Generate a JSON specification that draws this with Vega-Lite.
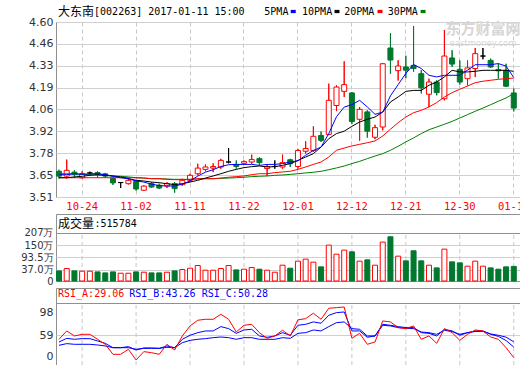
{
  "$schema": "https://vega.github.io/schema/vega-lite/v6.json",
  "padding": {"left": 0, "top": 4, "right": 0, "bottom": 0},
  "background": "white",
  "config": {
    "view": {"stroke": "#909090", "strokeWidth": 1},
    "axis": {"labelFont": "DejaVu Sans", "labelFontSize": 11, "labelColor": "#333333", "ticks": false, "tickSize": 0, "domain": false, "labelOverlap": false}
  },
  "datasets": {
    "k": [
      {"d":"10-19","o":3.67,"h":3.68,"l":3.625,"c":3.64,"v":30.8,"m5":3.649,"m10":3.630,"m20":3.630,"m30":3.655,"ra":53.6,"rb":50.0,"rc":45.6},
      {"d":"10-20","o":3.64,"h":3.743,"l":3.625,"c":3.676,"v":41.7,"m5":3.649,"m10":3.630,"m20":3.630,"m30":3.655,"ra":64.8,"rb":54.9,"rc":47.8},
      {"d":"10-21","o":3.665,"h":3.676,"l":3.63,"c":3.652,"v":30.8,"m5":3.655,"m10":3.635,"m20":3.630,"m30":3.653,"ra":58.1,"rb":53.6,"rc":46.9},
      {"d":"10-24","o":3.63,"h":3.67,"l":3.625,"c":3.656,"v":29.3,"m5":3.651,"m10":3.639,"m20":3.630,"m30":3.651,"ra":60.3,"rb":54.5,"rc":46.9},
      {"d":"10-25","o":3.66,"h":3.668,"l":3.645,"c":3.66,"v":29.3,"m5":3.655,"m10":3.645,"m20":3.630,"m30":3.649,"ra":60.3,"rb":54.5,"rc":46.9},
      {"d":"10-26","o":3.662,"h":3.67,"l":3.63,"c":3.652,"v":26.1,"m5":3.655,"m10":3.649,"m20":3.630,"m30":3.647,"ra":53.6,"rb":51.4,"rc":46.0},
      {"d":"10-27","o":3.654,"h":3.66,"l":3.63,"c":3.64,"v":21.5,"m5":3.649,"m10":3.645,"m20":3.630,"m30":3.645,"ra":46.9,"rb":48.2,"rc":44.7},
      {"d":"10-28","o":3.626,"h":3.63,"l":3.585,"c":3.598,"v":26.1,"m5":3.639,"m10":3.641,"m20":3.630,"m30":3.641,"ra":33.5,"rb":42.4,"rc":42.4},
      {"d":"10-31","o":3.60,"h":3.602,"l":3.566,"c":3.60,"v":20.0,"m5":3.630,"m10":3.635,"m20":3.630,"m30":3.639,"ra":33.5,"rb":42.4,"rc":42.4},
      {"d":"11-01","o":3.593,"h":3.63,"l":3.588,"c":3.614,"v":20.0,"m5":3.624,"m10":3.624,"m20":3.630,"m30":3.635,"ra":40.2,"rb":43.8,"rc":42.4},
      {"d":"11-02","o":3.607,"h":3.614,"l":3.55,"c":3.56,"v":26.1,"m5":3.610,"m10":3.614,"m20":3.630,"m30":3.630,"ra":25.9,"rb":39.3,"rc":40.2},
      {"d":"11-03","o":3.552,"h":3.582,"l":3.548,"c":3.578,"v":24.6,"m5":3.603,"m10":3.610,"m20":3.628,"m30":3.628,"ra":37.1,"rb":42.0,"rc":41.5},
      {"d":"11-04","o":3.593,"h":3.603,"l":3.566,"c":3.572,"v":21.5,"m5":3.590,"m10":3.603,"m20":3.624,"m30":3.624,"ra":35.7,"rb":42.0,"rc":41.5},
      {"d":"11-07","o":3.583,"h":3.593,"l":3.56,"c":3.566,"v":21.5,"m5":3.581,"m10":3.599,"m20":3.624,"m30":3.624,"ra":33.5,"rb":41.5,"rc":41.5},
      {"d":"11-08","o":3.578,"h":3.603,"l":3.566,"c":3.593,"v":24.6,"m5":3.579,"m10":3.593,"m20":3.620,"m30":3.622,"ra":46.9,"rb":44.7,"rc":42.9},
      {"d":"11-09","o":3.593,"h":3.603,"l":3.537,"c":3.562,"v":30.8,"m5":3.578,"m10":3.587,"m20":3.618,"m30":3.620,"ra":39.3,"rb":42.4,"rc":42.4},
      {"d":"11-10","o":3.587,"h":3.624,"l":3.58,"c":3.614,"v":37.0,"m5":3.590,"m10":3.593,"m20":3.618,"m30":3.620,"ra":58.1,"rb":53.6,"rc":49.1},
      {"d":"11-11","o":3.614,"h":3.655,"l":3.603,"c":3.645,"v":43.2,"m5":3.610,"m10":3.603,"m20":3.620,"m30":3.620,"ra":71.5,"rb":59.0,"rc":52.2},
      {"d":"11-14","o":3.655,"h":3.717,"l":3.645,"c":3.69,"v":55.6,"m5":3.640,"m10":3.614,"m20":3.624,"m30":3.622,"ra":79.1,"rb":62.5,"rc":53.6},
      {"d":"11-15","o":3.682,"h":3.713,"l":3.67,"c":3.697,"v":33.9,"m5":3.665,"m10":3.628,"m20":3.624,"m30":3.624,"ra":80.4,"rb":64.8,"rc":54.5},
      {"d":"11-16","o":3.69,"h":3.72,"l":3.665,"c":3.70,"v":33.9,"m5":3.680,"m10":3.641,"m20":3.624,"m30":3.624,"ra":80.4,"rb":64.8,"rc":55.8},
      {"d":"11-17","o":3.697,"h":3.748,"l":3.686,"c":3.738,"v":41.7,"m5":3.700,"m10":3.655,"m20":3.628,"m30":3.626,"ra":87.1,"rb":70.6,"rc":56.7},
      {"d":"11-18","o":3.728,"h":3.815,"l":3.72,"c":3.728,"v":55.6,"m5":3.711,"m10":3.670,"m20":3.633,"m30":3.628,"ra":80.4,"rb":67.9,"rc":55.8},
      {"d":"11-21","o":3.713,"h":3.738,"l":3.686,"c":3.70,"v":35.4,"m5":3.713,"m10":3.682,"m20":3.637,"m30":3.630,"ra":63.4,"rb":61.6,"rc":53.6},
      {"d":"11-22","o":3.72,"h":3.738,"l":3.717,"c":3.73,"v":38.6,"m5":3.713,"m10":3.693,"m20":3.641,"m30":3.633,"ra":72.4,"rb":66.1,"rc":55.8},
      {"d":"11-23","o":3.728,"h":3.774,"l":3.717,"c":3.743,"v":46.3,"m5":3.713,"m10":3.699,"m20":3.649,"m30":3.637,"ra":73.7,"rb":67.0,"rc":55.8},
      {"d":"11-24","o":3.749,"h":3.757,"l":3.707,"c":3.724,"v":38.6,"m5":3.707,"m10":3.703,"m20":3.655,"m30":3.639,"ra":62.5,"rb":58.1,"rc":53.6},
      {"d":"11-25","o":3.687,"h":3.711,"l":3.64,"c":3.70,"v":33.9,"m5":3.713,"m10":3.697,"m20":3.655,"m30":3.641,"ra":54.9,"rb":56.3,"rc":53.6},
      {"d":"11-28","o":3.70,"h":3.738,"l":3.686,"c":3.70,"v":24.6,"m5":3.713,"m10":3.699,"m20":3.662,"m30":3.645,"ra":58.1,"rb":58.1,"rc":53.6},
      {"d":"11-29","o":3.697,"h":3.774,"l":3.686,"c":3.724,"v":57.1,"m5":3.718,"m10":3.707,"m20":3.666,"m30":3.647,"ra":65.7,"rb":62.5,"rc":55.8},
      {"d":"11-30","o":3.742,"h":3.748,"l":3.697,"c":3.717,"v":43.2,"m5":3.728,"m10":3.718,"m20":3.670,"m30":3.651,"ra":58.1,"rb":59.0,"rc":54.9},
      {"d":"12-01","o":3.70,"h":3.81,"l":3.686,"c":3.80,"v":75.7,"m5":3.735,"m10":3.738,"m20":3.682,"m30":3.655,"ra":79.6,"rb":72.4,"rc":61.6},
      {"d":"12-02","o":3.795,"h":3.857,"l":3.78,"c":3.812,"v":85.0,"m5":3.770,"m10":3.759,"m20":3.697,"m30":3.660,"ra":81.3,"rb":73.7,"rc":62.5},
      {"d":"12-05","o":3.80,"h":3.95,"l":3.79,"c":3.888,"v":71.1,"m5":3.800,"m10":3.780,"m20":3.713,"m30":3.664,"ra":88.5,"rb":76.9,"rc":66.1},
      {"d":"12-06","o":3.893,"h":3.918,"l":3.853,"c":3.863,"v":49.4,"m5":3.821,"m10":3.821,"m20":3.728,"m30":3.670,"ra":80.4,"rb":75.1,"rc":64.8},
      {"d":"12-07","o":3.90,"h":4.216,"l":3.895,"c":4.112,"v":150,"m5":3.905,"m10":3.873,"m20":3.759,"m30":3.680,"ra":95.2,"rb":85.8,"rc":70.6},
      {"d":"12-08","o":4.08,"h":4.206,"l":4.045,"c":4.195,"v":108,"m5":4.010,"m10":3.905,"m20":3.801,"m30":3.691,"ra":96.0,"rb":89.3,"rc":75.9},
      {"d":"12-09","o":4.168,"h":4.355,"l":4.133,"c":4.21,"v":126.8,"m5":4.070,"m10":3.920,"m20":3.815,"m30":3.703,"ra":96.9,"rb":90.2,"rc":76.9},
      {"d":"12-12","o":4.158,"h":4.164,"l":3.965,"c":3.98,"v":119,"m5":4.085,"m10":3.950,"m20":3.828,"m30":3.718,"ra":55.0,"rb":64.8,"rc":67.9},
      {"d":"12-13","o":3.994,"h":4.07,"l":3.86,"c":4.056,"v":75.7,"m5":4.112,"m10":3.977,"m20":3.838,"m30":3.732,"ra":61.6,"rb":64.8,"rc":67.0},
      {"d":"12-14","o":4.04,"h":4.05,"l":3.88,"c":3.92,"v":81.9,"m5":4.071,"m10":3.994,"m20":3.848,"m30":3.749,"ra":46.9,"rb":56.3,"rc":58.1},
      {"d":"12-15","o":3.882,"h":3.96,"l":3.87,"c":3.942,"v":57.1,"m5":4.025,"m10":4.008,"m20":3.859,"m30":3.765,"ra":50.0,"rb":58.1,"rc":58.1},
      {"d":"12-16","o":3.946,"h":4.345,"l":3.925,"c":4.34,"v":164,"m5":4.039,"m10":4.039,"m20":3.890,"m30":3.780,"ra":78.2,"rb":73.7,"rc":72.4},
      {"d":"12-19","o":4.438,"h":4.53,"l":4.278,"c":4.363,"v":188.7,"m5":4.140,"m10":4.102,"m20":3.932,"m30":3.801,"ra":76.9,"rb":72.4,"rc":71.5},
      {"d":"12-20","o":4.297,"h":4.362,"l":4.235,"c":4.326,"v":98.9,"m5":4.210,"m10":4.133,"m20":3.973,"m30":3.826,"ra":69.3,"rb":70.6,"rc":69.3},
      {"d":"12-21","o":4.32,"h":4.39,"l":4.25,"c":4.30,"v":77.2,"m5":4.280,"m10":4.168,"m20":4.008,"m30":3.853,"ra":67.9,"rb":69.3,"rc":68.5},
      {"d":"12-22","o":4.33,"h":4.575,"l":4.29,"c":4.31,"v":123.7,"m5":4.335,"m10":4.174,"m20":4.035,"m30":3.878,"ra":71.5,"rb":69.3,"rc":67.9},
      {"d":"12-23","o":4.278,"h":4.30,"l":4.155,"c":4.19,"v":77.2,"m5":4.310,"m10":4.174,"m20":4.050,"m30":3.905,"ra":53.6,"rb":62.5,"rc":63.4},
      {"d":"12-26","o":4.15,"h":4.247,"l":4.07,"c":4.226,"v":57.1,"m5":4.268,"m10":4.206,"m20":4.071,"m30":3.929,"ra":58.1,"rb":61.6,"rc":62.5},
      {"d":"12-27","o":4.226,"h":4.237,"l":4.143,"c":4.16,"v":44.7,"m5":4.258,"m10":4.226,"m20":4.098,"m30":3.946,"ra":48.2,"rb":58.1,"rc":60.3},
      {"d":"12-28","o":4.122,"h":4.55,"l":4.112,"c":4.388,"v":131.4,"m5":4.268,"m10":4.258,"m20":4.133,"m30":3.963,"ra":67.9,"rb":67.0,"rc":65.7},
      {"d":"12-29","o":4.376,"h":4.424,"l":4.32,"c":4.338,"v":72.6,"m5":4.268,"m10":4.299,"m20":4.160,"m30":3.981,"ra":62.5,"rb":64.8,"rc":64.0},
      {"d":"12-30","o":4.305,"h":4.361,"l":4.21,"c":4.226,"v":68.0,"m5":4.268,"m10":4.289,"m20":4.181,"m30":4.002,"ra":52.2,"rb":59.0,"rc":60.3},
      {"d":"01-03","o":4.247,"h":4.361,"l":4.205,"c":4.314,"v":52.5,"m5":4.300,"m10":4.289,"m20":4.201,"m30":4.023,"ra":60.3,"rb":62.5,"rc":62.5},
      {"d":"01-04","o":4.31,"h":4.438,"l":4.257,"c":4.403,"v":75.7,"m5":4.334,"m10":4.293,"m20":4.222,"m30":4.044,"ra":66.1,"rb":64.8,"rc":64.0},
      {"d":"01-05","o":4.388,"h":4.438,"l":4.368,"c":4.388,"v":52.5,"m5":4.334,"m10":4.299,"m20":4.231,"m30":4.064,"ra":64.8,"rb":64.8,"rc":64.4},
      {"d":"01-06","o":4.361,"h":4.372,"l":4.314,"c":4.32,"v":44.7,"m5":4.334,"m10":4.299,"m20":4.237,"m30":4.085,"ra":56.7,"rb":60.3,"rc":60.8},
      {"d":"01-09","o":4.303,"h":4.34,"l":4.247,"c":4.296,"v":38.6,"m5":4.341,"m10":4.299,"m20":4.243,"m30":4.106,"ra":53.6,"rb":57.5,"rc":59.0},
      {"d":"01-10","o":4.299,"h":4.34,"l":4.195,"c":4.20,"v":49.4,"m5":4.325,"m10":4.299,"m20":4.247,"m30":4.127,"ra":42.4,"rb":52.0,"rc":56.5},
      {"d":"01-11","o":4.158,"h":4.185,"l":4.043,"c":4.064,"v":51.5784,"m5":4.254,"m10":4.293,"m20":4.251,"m30":4.154,"ra":29.06,"rb":43.26,"rc":50.28}
    ]
  },
  "bounds": "flush",
  "spacing": 17,
  "vconcat": [
    {
      "width": 464,
      "height": 175,
      "layer": [
        {
          "data": {"name": "k"},
          "mark": {"type": "rule", "strokeWidth": 1},
          "encoding": {
            "x": {"field": "d", "type": "ordinal", "sort": null,
              "scale": {"type": "band", "paddingInner": 0.35, "paddingOuter": 0.275, "align": 0.12, "domain": ["10-19","10-20","10-21","10-24","10-25","10-26","10-27","10-28","10-31","11-01","11-02","11-03","11-04","11-07","11-08","11-09","11-10","11-11","11-14","11-15","11-16","11-17","11-18","11-21","11-22","11-23","11-24","11-25","11-28","11-29","11-30","12-01","12-02","12-05","12-06","12-07","12-08","12-09","12-12","12-13","12-14","12-15","12-16","12-19","12-20","12-21","12-22","12-23","12-26","12-27","12-28","12-29","12-30","01-03","01-04","01-05","01-06","01-09","01-10","01-11"]},
              "axis": {"title": null, "values": ["10-24","11-02","11-11","11-22","12-01","12-12","12-21","12-30","01-11"], "bandPosition": 0.5, "labelAngle": 0, "labelColor": "#ff0000", "labelFont": "DejaVu Sans Mono", "labelFontSize": 10.5, "labelPadding": 4, "labelOverlap": false, "grid": true, "gridDash": [4, 3], "gridColor": "#c8c8c8"}},
            "y": {"field": "l", "type": "quantitative",
              "scale": {"domain": [3.51, 4.60], "nice": false, "zero": false},
              "axis": {"title": null, "values": [3.51, 3.6463, 3.7824, 3.91875, 4.0551, 4.19125, 4.32751, 4.46375, 4.60], "tickCount": 20, "format": ".2f", "labelOverlap": false, "grid": true, "gridColor": "#d0d0d0", "labelPadding": 3, "minExtent": 55}},
            "y2": {"field": "h"},
            "stroke": {"condition": [{"test": "datum.c > datum.o", "value": "#ff0000"}, {"test": "datum.c < datum.o", "value": "#00782d"}], "value": "#000000"}
          }
        },
        {
          "data": {"values": [{}]},
          "mark": {"type": "text", "align": "center", "baseline": "middle", "font": "Noto Sans CJK SC", "fontSize": 15, "fontWeight": "bold", "color": "#d6d6d6", "text": "东方财富网"},
          "encoding": {"x": {"datum": "01-05", "type": "ordinal"}, "y": {"datum": 4.555, "type": "quantitative"}}
        },
        {
          "data": {"values": [{}]},
          "mark": {"type": "text", "align": "center", "baseline": "middle", "font": "DejaVu Sans", "fontSize": 8.5, "color": "#d6d6d6", "text": "eastmoney.com"},
          "encoding": {"x": {"datum": "01-05", "type": "ordinal"}, "y": {"datum": 4.47, "type": "quantitative"}}
        },
        {
          "data": {"name": "k"},
          "mark": {"type": "rule", "strokeWidth": 1},
          "encoding": {
            "x": {"field": "d", "type": "ordinal", "sort": null},
            "y": {"field": "l", "type": "quantitative"},
            "y2": {"field": "h"},
            "stroke": {"condition": [{"test": "datum.c > datum.o", "value": "#ff0000"}, {"test": "datum.c < datum.o", "value": "#00782d"}], "value": "#000000"}
          }
        },
        {
          "data": {"name": "k"},
          "mark": {"type": "bar", "strokeWidth": 1},
          "encoding": {
            "x": {"field": "d", "type": "ordinal", "sort": null},
            "y": {"field": "o", "type": "quantitative"},
            "y2": {"field": "c"},
            "fill": {"condition": [{"test": "datum.c > datum.o", "value": "#ffffff"}, {"test": "datum.c < datum.o", "value": "#00782d"}], "value": "#000000"},
            "stroke": {"condition": [{"test": "datum.c > datum.o", "value": "#ff0000"}, {"test": "datum.c < datum.o", "value": "#00782d"}], "value": "#000000"}
          }
        },
        {"data": {"name": "k"}, "mark": {"type": "line", "color": "#008000", "strokeWidth": 1}, "encoding": {"x": {"field": "d", "type": "ordinal", "sort": null}, "y": {"field": "m30", "type": "quantitative"}}},
        {"data": {"name": "k"}, "mark": {"type": "line", "color": "#ff0000", "strokeWidth": 1}, "encoding": {"x": {"field": "d", "type": "ordinal", "sort": null}, "y": {"field": "m20", "type": "quantitative"}}},
        {"data": {"name": "k"}, "mark": {"type": "line", "color": "#000000", "strokeWidth": 1}, "encoding": {"x": {"field": "d", "type": "ordinal", "sort": null}, "y": {"field": "m10", "type": "quantitative"}}},
        {"data": {"name": "k"}, "mark": {"type": "line", "color": "#0000ff", "strokeWidth": 1}, "encoding": {"x": {"field": "d", "type": "ordinal", "sort": null}, "y": {"field": "m5", "type": "quantitative"}}},
        {
          "data": {"values": [{}]},
          "mark": {"type": "text", "align": "left", "baseline": "middle", "font": "Noto Sans CJK SC", "fontSize": 12, "color": "#000000", "dx": -1, "text": "大东南"},
          "encoding": {"x": {"datum": "10-19", "type": "ordinal"}, "y": {"datum": 4.6654, "type": "quantitative"}}
        },
        {
          "data": {"values": [{}]},
          "mark": {"type": "text", "align": "left", "baseline": "middle", "font": "DejaVu Sans Mono", "fontSize": 10, "color": "#000000", "dx": -3.5, "text": "[002263] 2017-01-11 15:00"},
          "encoding": {"x": {"datum": "10-26", "type": "ordinal"}, "y": {"datum": 4.6654, "type": "quantitative"}}
        },
        {
          "data": {"values": [{}]},
          "mark": {"type": "text", "align": "left", "baseline": "middle", "font": "DejaVu Sans Mono", "fontSize": 10, "color": "#000000", "dx": -2.8, "text": "5PMA"},
          "encoding": {"x": {"datum": "11-25", "type": "ordinal"}, "y": {"datum": 4.6654, "type": "quantitative"}}
        },
        {
          "data": {"values": [{}]},
          "mark": {"type": "text", "align": "left", "baseline": "middle", "font": "DejaVu Sans Mono", "fontSize": 10, "color": "#000000", "dx": -3.6, "text": "10PMA"},
          "encoding": {"x": {"datum": "12-02", "type": "ordinal"}, "y": {"datum": 4.6654, "type": "quantitative"}}
        },
        {
          "data": {"values": [{}]},
          "mark": {"type": "text", "align": "left", "baseline": "middle", "font": "DejaVu Sans Mono", "fontSize": 10, "color": "#000000", "dx": 0, "text": "20PMA"},
          "encoding": {"x": {"datum": "12-09", "type": "ordinal"}, "y": {"datum": 4.6654, "type": "quantitative"}}
        },
        {
          "data": {"values": [{}]},
          "mark": {"type": "text", "align": "left", "baseline": "middle", "font": "DejaVu Sans Mono", "fontSize": 10, "color": "#000000", "dx": -2.7, "text": "30PMA"},
          "encoding": {"x": {"datum": "12-19", "type": "ordinal"}, "y": {"datum": 4.6654, "type": "quantitative"}}
        },
        {
          "data": {"values": [{}]},
          "mark": {"type": "point", "shape": "M-1,-0.65H1V0.65H-1Z", "size": 25, "filled": true, "opacity": 1, "color": "#0000ff", "xOffset": 3},
          "encoding": {"x": {"datum": "11-30", "type": "ordinal"}, "y": {"datum": 4.6654, "type": "quantitative"}}
        },
        {
          "data": {"values": [{}]},
          "mark": {"type": "point", "shape": "M-1,-0.65H1V0.65H-1Z", "size": 25, "filled": true, "opacity": 1, "color": "#000000", "xOffset": 0.5},
          "encoding": {"x": {"datum": "12-08", "type": "ordinal"}, "y": {"datum": 4.6654, "type": "quantitative"}}
        },
        {
          "data": {"values": [{}]},
          "mark": {"type": "point", "shape": "M-1,-0.65H1V0.65H-1Z", "size": 25, "filled": true, "opacity": 1, "color": "#ff0000", "xOffset": -2.7},
          "encoding": {"x": {"datum": "12-16", "type": "ordinal"}, "y": {"datum": 4.6654, "type": "quantitative"}}
        },
        {
          "data": {"values": [{}]},
          "mark": {"type": "point", "shape": "M-1,-0.65H1V0.65H-1Z", "size": 25, "filled": true, "opacity": 1, "color": "#008000", "xOffset": 1.8},
          "encoding": {"x": {"datum": "12-23", "type": "ordinal"}, "y": {"datum": 4.6654, "type": "quantitative"}}
        }
      ]
    },
    {
      "bounds": "flush",
      "spacing": 7,
      "vconcat": [
        {
          "width": 464,
          "height": 67,
          "layer": [
            {
              "data": {"name": "k"},
              "transform": [{"filter": {"field": "d", "oneOf": ["10-24","11-02","11-11","11-22","12-01","12-12","12-21","12-30","01-11"]}}],
              "mark": {"type": "rule", "strokeDash": [4, 3], "color": "#c8c8c8"},
              "encoding": {
                "x": {"field": "d", "type": "ordinal", "sort": null, "scale": {"type": "band", "paddingInner": 0.35, "paddingOuter": 0.275, "align": 0.12, "domain": ["10-19","10-20","10-21","10-24","10-25","10-26","10-27","10-28","10-31","11-01","11-02","11-03","11-04","11-07","11-08","11-09","11-10","11-11","11-14","11-15","11-16","11-17","11-18","11-21","11-22","11-23","11-24","11-25","11-28","11-29","11-30","12-01","12-02","12-05","12-06","12-07","12-08","12-09","12-12","12-13","12-14","12-15","12-16","12-19","12-20","12-21","12-22","12-23","12-26","12-27","12-28","12-29","12-30","01-03","01-04","01-05","01-06","01-09","01-10","01-11"]}, "axis": null},
                "y": {"datum": -16, "type": "quantitative",
                  "scale": {"domain": [-16, 294], "nice": false, "zero": false},
                  "axis": {"title": null, "values": [0, 37, 93.5, 150, 207], "tickCount": 20, "labelFontSize": 10, "labelExpr": "datum.value == 0 ? '0' : format(datum.value, '.3r') + '万'", "labelOffset": {"condition": {"test": "datum.value == 0", "value": 3.5}, "value": 0}, "labelOverlap": false, "grid": true, "gridColor": {"condition": {"test": "datum.value == 207", "value": "#909090"}, "value": "#d0d0d0"}, "gridOpacity": {"condition": {"test": "datum.value == 0", "value": 0}, "value": 1}, "labelPadding": 3, "minExtent": 55}},
                "y2": {"datum": 207}
              }
            },
            {
              "data": {"name": "k"},
              "mark": {"type": "bar", "strokeWidth": 1},
              "encoding": {
                "x": {"field": "d", "type": "ordinal", "sort": null},
                "y": {"field": "v", "type": "quantitative"},
                "y2": {"datum": -16},
                "fill": {"condition": {"test": "datum.c < datum.o", "value": "#00782d"}, "value": "#ffffff"},
                "stroke": {"condition": {"test": "datum.c < datum.o", "value": "#00782d"}, "value": "#ff0000"}
              }
            },
            {
              "data": {"values": [{}]},
              "mark": {"type": "text", "align": "left", "baseline": "middle", "font": "Noto Sans CJK SC", "fontSize": 12, "color": "#000000", "dx": -1, "text": "成交量"},
              "encoding": {"x": {"datum": "10-19", "type": "ordinal"}, "y": {"datum": 248.6, "type": "quantitative"}}
            },
            {
              "data": {"values": [{}]},
              "mark": {"type": "text", "align": "left", "baseline": "middle", "font": "DejaVu Sans Mono", "fontSize": 10, "color": "#000000", "dx": -3, "text": ":515784"},
              "encoding": {"x": {"datum": "10-26", "type": "ordinal"}, "y": {"datum": 248.6, "type": "quantitative"}}
            }
          ]
        },
        {
          "width": 464,
          "height": 77,
          "layer": [
            {
              "data": {"name": "k"},
              "transform": [{"filter": {"field": "d", "oneOf": ["10-24","11-02","11-11","11-22","12-01","12-12","12-21","12-30","01-11"]}}],
              "mark": {"type": "rule", "strokeDash": [4, 3], "color": "#c8c8c8"},
              "encoding": {
                "x": {"field": "d", "type": "ordinal", "sort": null, "scale": {"type": "band", "paddingInner": 0.35, "paddingOuter": 0.275, "align": 0.12, "domain": ["10-19","10-20","10-21","10-24","10-25","10-26","10-27","10-28","10-31","11-01","11-02","11-03","11-04","11-07","11-08","11-09","11-10","11-11","11-14","11-15","11-16","11-17","11-18","11-21","11-22","11-23","11-24","11-25","11-28","11-29","11-30","12-01","12-02","12-05","12-06","12-07","12-08","12-09","12-12","12-13","12-14","12-15","12-16","12-19","12-20","12-21","12-22","12-23","12-26","12-27","12-28","12-29","12-30","01-03","01-04","01-05","01-06","01-09","01-10","01-11"]}, "axis": null},
                "y": {"datum": 19.2, "type": "quantitative",
                  "scale": {"domain": [19.2, 122.3], "nice": false, "zero": false},
                  "axis": {"title": null, "values": [102.6, 98, 59, 30], "tickCount": 20, "labelExpr": "datum.value > 100 ? '' : datum.value < 40 ? '0' : datum.label", "labelOffset": {"condition": {"test": "datum.value == 98", "value": 6}, "value": 0}, "labelOverlap": false, "grid": true, "gridColor": {"condition": {"test": "datum.value > 100", "value": "#909090"}, "value": "#d0d0d0"}, "gridOpacity": {"condition": {"test": "datum.value > 100 || datum.value == 59", "value": 1}, "value": 0}, "labelPadding": 3, "minExtent": 55}},
                "y2": {"datum": 102.6}
              }
            },
            {"data": {"name": "k"}, "mark": {"type": "line", "color": "#0000ff", "strokeWidth": 1}, "encoding": {"x": {"field": "d", "type": "ordinal", "sort": null}, "y": {"field": "rc", "type": "quantitative"}}},
            {"data": {"name": "k"}, "mark": {"type": "line", "color": "#0000ff", "strokeWidth": 1}, "encoding": {"x": {"field": "d", "type": "ordinal", "sort": null}, "y": {"field": "rb", "type": "quantitative"}}},
            {"data": {"name": "k"}, "mark": {"type": "line", "color": "#ff0000", "strokeWidth": 1}, "encoding": {"x": {"field": "d", "type": "ordinal", "sort": null}, "y": {"field": "ra", "type": "quantitative"}}},
            {
              "data": {"values": [{}]},
              "mark": {"type": "text", "align": "left", "baseline": "middle", "font": "DejaVu Sans Mono", "fontSize": 10, "color": "#ff0000", "dx": -1, "text": "RSI_A:29.06"},
              "encoding": {"x": {"datum": "10-19", "type": "ordinal"}, "y": {"datum": 113.8, "type": "quantitative"}}
            },
            {
              "data": {"values": [{}]},
              "mark": {"type": "text", "align": "left", "baseline": "middle", "font": "DejaVu Sans Mono", "fontSize": 10, "color": "#0000ff", "dx": 0.9, "text": "RSI_B:43.26"},
              "encoding": {"x": {"datum": "11-01", "type": "ordinal"}, "y": {"datum": 113.8, "type": "quantitative"}}
            },
            {
              "data": {"values": [{}]},
              "mark": {"type": "text", "align": "left", "baseline": "middle", "font": "DejaVu Sans Mono", "fontSize": 10, "color": "#0000ff", "dx": -3.7, "text": "RSI_C:50.28"},
              "encoding": {"x": {"datum": "11-15", "type": "ordinal"}, "y": {"datum": 113.8, "type": "quantitative"}}
            }
          ]
        }
      ]
    }
  ]
}
